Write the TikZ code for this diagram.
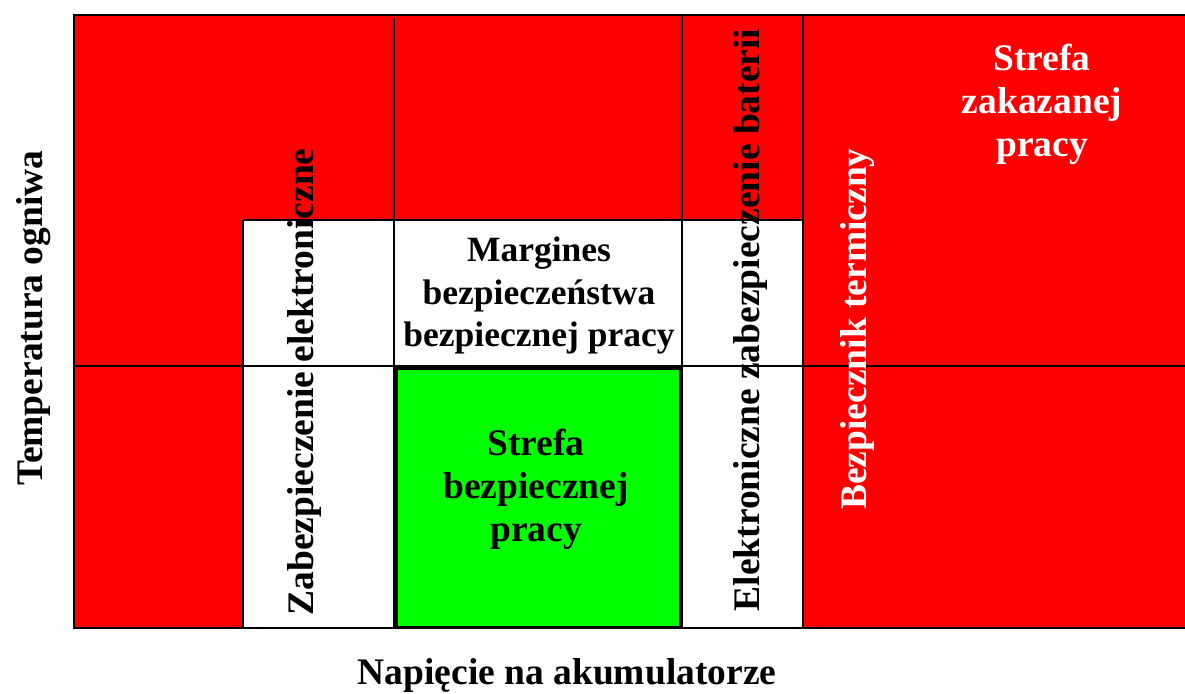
\documentclass[tikz,border=0pt]{standalone}
\usepackage{fontspec}
\setmainfont{Liberation Serif}
\begin{document}
\begin{tikzpicture}[x=1pt,y=-1pt,
  lbl/.style={font=\bfseries\fontsize{37.5}{43}\selectfont, align=center, inner sep=0pt},
  lblsm/.style={lbl, font=\bfseries\fontsize{35.5}{42.5}\selectfont},
  grid/.style={line width=2pt, black},
  frame/.style={line width=2.6pt, black}]
\useasboundingbox (0,0) rectangle (1185,693);
% zones
\fill[red] (75,15) rectangle (1185,628);
\fill[white] (243,220) rectangle (803,628);
\fill[green] (395,366) rectangle (682,628);
% grid lines
\draw[grid] (394,18) -- (394,628);
\draw[grid] (682,15) -- (682,628);
\draw[grid] (803,15) -- (803,628);
\draw[grid] (243,220) -- (803,220);
\draw[grid] (243,220) -- (243,628);
\draw[grid] (75,366) -- (1185,366);
\draw[line width=3pt] (396.5,368) rectangle (680.5,627);
% outer frame
\draw[frame] (1185,15) -- (74,15) -- (74,628) -- (1185,628);
% labels
\node[lbl] (ty) at (34,318) [rotate=90] {Temperatura ogniwa};
\node[lbl] (tx) at (567,675) {Napięcie na akumulatorze};
\node[lbl] (ze) at (304,382) [rotate=90] {Zabezpieczenie elektroniczne};
\node[lbl] (eb) at (750,320) [rotate=90] {Elektroniczne zabezpieczenie baterii};
\node[lbl, white] (bt) at (858,329) [rotate=90] {Bezpiecznik termiczny};
\node[lbl, white] (sz) at (1042,104) {Strefa\\zakazanej\\pracy};
\node[lblsm] (mb) at (539,296) {Margines\\bezpieczeństwa\\bezpiecznej pracy};
\node[lbl] (sb) at (536,489) {Strefa\\bezpiecznej\\pracy};
\end{tikzpicture}
\end{document}
